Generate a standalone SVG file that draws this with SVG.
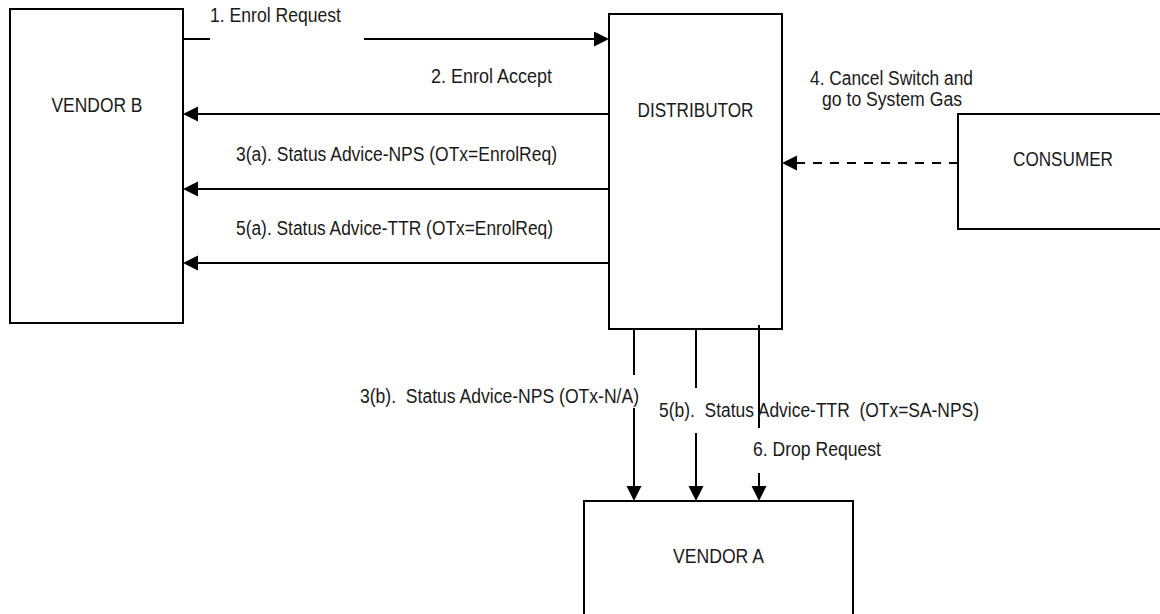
<svg xmlns="http://www.w3.org/2000/svg" width="1160" height="614" viewBox="0 0 1160 614">
  <style>
    .box { fill: #ffffff; stroke: #000000; stroke-width: 2; }
    .lbl { font-family: "Liberation Sans Narrow", "Liberation Sans", Arial, sans-serif; font-size: 20px; fill: #1a1a1a; white-space: pre; }
    .mid { text-anchor: middle; }
    .ln { fill: none; stroke: #000000; stroke-width: 2; }
    .dash { stroke-dasharray: 9 8; }
  </style>
  <defs>
    <marker id="ah" markerUnits="userSpaceOnUse" markerWidth="16" markerHeight="16" refX="11" refY="7.5" orient="auto">
      <path d="M0,0 L15,7.5 L0,15 Z" fill="#000000"/>
    </marker>
  </defs>
  <rect width="1160" height="614" fill="#ffffff"/>

  <g id="vendor-b">
    <rect class="box" x="10" y="9" width="173" height="314"/>
    <text class="lbl mid" x="97" y="112" textLength="91" lengthAdjust="spacingAndGlyphs">VENDOR B</text>
  </g>
  <g id="distributor">
    <rect class="box" x="609" y="14" width="173" height="315"/>
    <text class="lbl mid" x="695.5" y="117" textLength="116" lengthAdjust="spacingAndGlyphs">DISTRIBUTOR</text>
  </g>
  <g id="consumer">
    <rect class="box" x="958" y="114" width="215" height="115"/>
    <text class="lbl mid" x="1063" y="166" textLength="100" lengthAdjust="spacingAndGlyphs">CONSUMER</text>
  </g>
  <g id="vendor-a">
    <rect class="box" x="584" y="501" width="269" height="130"/>
    <text class="lbl mid" x="718.5" y="563" textLength="91" lengthAdjust="spacingAndGlyphs">VENDOR A</text>
  </g>

  <g id="connectors">
    <line class="ln" x1="183" y1="39" x2="210" y2="39"/>
    <line class="ln" x1="364" y1="39" x2="605" y2="39" marker-end="url(#ah)"/>
    <line class="ln" x1="609" y1="114" x2="187" y2="114" marker-end="url(#ah)"/>
    <line class="ln" x1="609" y1="189" x2="187" y2="189" marker-end="url(#ah)"/>
    <line class="ln" x1="609" y1="263" x2="187" y2="263" marker-end="url(#ah)"/>
    <line class="ln dash" x1="958" y1="163" x2="786" y2="163" marker-end="url(#ah)"/>
    <line class="ln" x1="634" y1="329" x2="634" y2="375"/>
    <line class="ln" x1="634" y1="408" x2="634" y2="497" marker-end="url(#ah)"/>
    <line class="ln" x1="696" y1="329" x2="696" y2="388"/>
    <line class="ln" x1="696" y1="433" x2="696" y2="497" marker-end="url(#ah)"/>
    <line class="ln" x1="759" y1="325" x2="759" y2="428"/>
    <line class="ln" x1="759" y1="473" x2="759" y2="497" marker-end="url(#ah)"/>
  </g>

  <g id="labels">
    <text class="lbl" x="210" y="22" textLength="131" lengthAdjust="spacingAndGlyphs">1. Enrol Request</text>
    <text class="lbl" x="431" y="83" textLength="121" lengthAdjust="spacingAndGlyphs">2. Enrol Accept</text>
    <text class="lbl" x="236" y="161" textLength="321" lengthAdjust="spacingAndGlyphs">3(a). Status Advice-NPS (OTx=EnrolReq)</text>
    <text class="lbl" x="236" y="235" textLength="317" lengthAdjust="spacingAndGlyphs">5(a). Status Advice-TTR (OTx=EnrolReq)</text>
    <text class="lbl" x="810" y="85" textLength="163" lengthAdjust="spacingAndGlyphs">4. Cancel Switch and</text>
    <text class="lbl" x="822" y="106" textLength="140" lengthAdjust="spacingAndGlyphs">go to System Gas</text>
    <text class="lbl" x="360" y="403" textLength="279" lengthAdjust="spacingAndGlyphs" xml:space="preserve">3(b).  Status Advice-NPS (OTx-N/A)</text>
    <text class="lbl" x="659" y="417" textLength="320" lengthAdjust="spacingAndGlyphs" xml:space="preserve">5(b).  Status Advice-TTR  (OTx=SA-NPS)</text>
    <text class="lbl" x="753" y="456" textLength="128" lengthAdjust="spacingAndGlyphs">6. Drop Request</text>
  </g>
</svg>
